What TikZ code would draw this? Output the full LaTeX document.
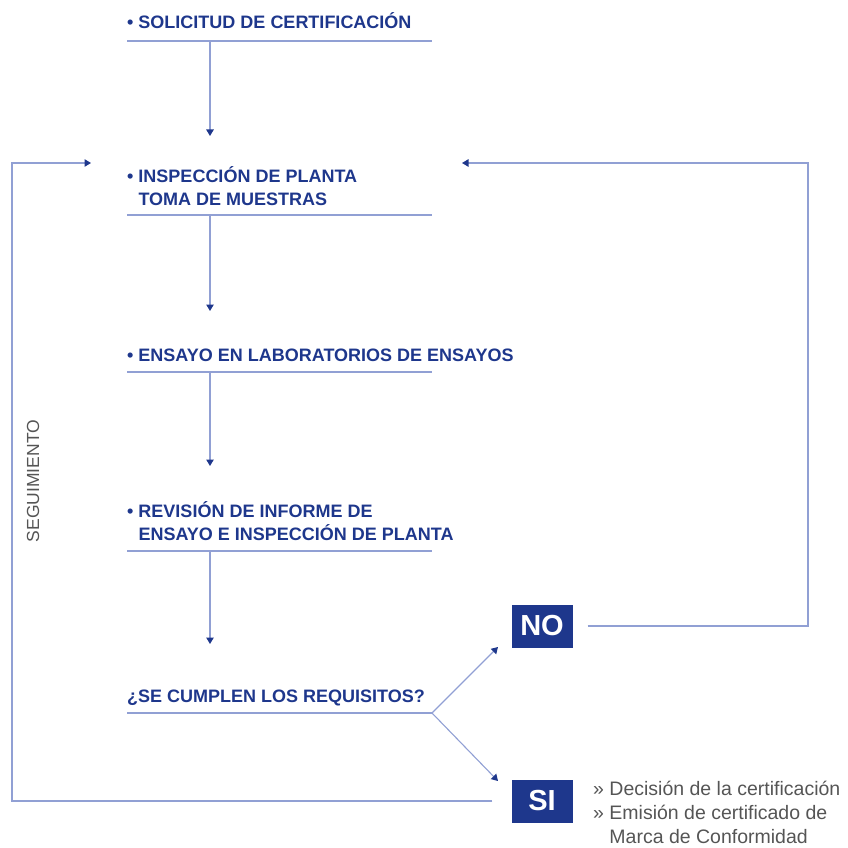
\documentclass[tikz,border=0pt]{standalone}
\usepackage{fontspec}
\setmainfont{Liberation Sans}
\usetikzlibrary{arrows.meta}

\definecolor{azul}{RGB}{30,55,140}
\definecolor{linea}{RGB}{145,160,212}
\definecolor{gris}{RGB}{85,85,85}

\tikzset{
	paso/.style = {anchor = base west, inner sep = 0pt, text = azul,
		font = \fontsize{18}{23}\selectfont\bfseries, align = left},
	raya/.style = {draw = linea, line width = 1.1pt},
	flecha/.style = {raya, -{Triangle[length = 6.5pt, width = 7.5pt, color = azul]}},
	caja/.style = {fill = azul, text = white, inner sep = 0pt,
		font = \fontsize{29}{29}\selectfont\bfseries,
		minimum width = 61pt, minimum height = 43pt},
	nota/.style = {anchor = base west, inner sep = 0pt, text = gris,
		font = \fontsize{19.5}{24}\selectfont, align = left}
}

\begin{document}
\begin{tikzpicture}[x = 1pt, y = -1pt]
	\useasboundingbox (0,0) rectangle (847,848);

	% pasos (base = ultima linea)
	\node (solicitud) [paso] at (127,29) {• SOLICITUD DE CERTIFICACIÓN};
	\node (inspeccion) [paso] at (127,205) {• INSPECCIÓN DE PLANTA\\\phantom{• }TOMA DE MUESTRAS};
	\node (ensayo) [paso] at (127,361) {• ENSAYO EN LABORATORIOS DE ENSAYOS};
	\node (revision) [paso] at (127,540) {• REVISIÓN DE INFORME DE\\\phantom{• }ENSAYO E INSPECCIÓN DE PLANTA};
	\node (pregunta) [paso] at (127,702) {¿SE CUMPLEN LOS REQUISITOS?};

	\node (no) [caja] at (542,626) {NO};
	\node (si) [caja] at (542,801) {SI};

	\node (seguimiento) [rotate = 90, text = gris, font = \fontsize{17.5}{17.5}\selectfont] at (33,481) {SEGUIMIENTO};
	\node (resultado) [nota] at (593,843) {» Decisión de la certificación\\» Emisión de certificado de\\\phantom{» }Marca de Conformidad};

	% subrayados
	\draw [raya] (127,41) -- (432,41);
	\draw [raya] (127,215) -- (432,215);
	\draw [raya] (127,372) -- (432,372);
	\draw [raya] (127,551) -- (432,551);
	\draw [raya] (127,713) -- (432,713) coordinate (bif);

	% flechas
	\coordinate (a1) at (210,41);   \coordinate (t1) at (210,136);
	\coordinate (a2) at (210,215);  \coordinate (t2) at (210,311);
	\coordinate (a3) at (210,372);  \coordinate (t3) at (210,466);
	\coordinate (a4) at (210,551);  \coordinate (t4) at (210,644);
	\draw [flecha] (a1) -- (t1);
	\draw [flecha] (a2) -- (t2);
	\draw [flecha] (a3) -- (t3);
	\draw [flecha] (a4) -- (t4);

	\coordinate (pno) at (498,647);
	\coordinate (psi) at (498,781);
	\draw [flecha] (bif) -- (pno);
	\draw [flecha] (bif) -- (psi);

	% retorno y seguimiento
	\coordinate (esqno) at (808,163);
	\coordinate (finno) at (462,163);
	\draw [flecha] ([xshift = 15pt]no.east) -| (esqno) -- (finno);

	\coordinate (esqsi) at (12,163);
	\coordinate (finsi) at (91,163);
	\draw [flecha] ([xshift = -19pt]si.west) -| (esqsi) -- (finsi);

\end{tikzpicture}
\end{document}
